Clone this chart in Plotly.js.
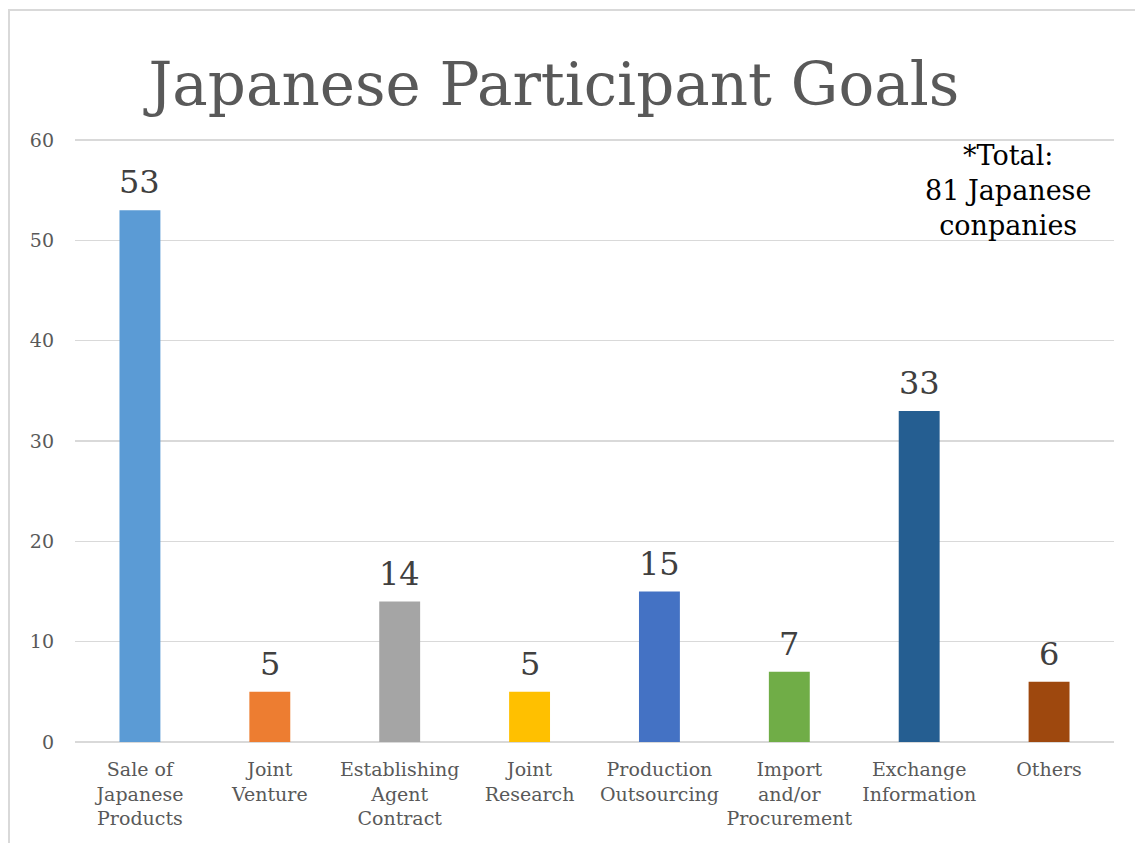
<!DOCTYPE html>
<html>
<head>
<meta charset="utf-8">
<script src="https://cdn.plot.ly/plotly-3.0.1.min.js"></script>
<style>
html,body{margin:0;padding:0;background:#fff;overflow:hidden;}
#frame{position:absolute;left:8px;top:9px;width:1200px;height:900px;border-left:2px solid #d9d9d9;border-top:2px solid #d9d9d9;box-sizing:border-box;pointer-events:none;z-index:5;}
#chart{position:absolute;left:0;top:0;width:1135px;height:843px;}
</style>
</head>
<body>
<div id="chart"></div>
<div id="frame"></div>
<script>
const categories = ["Sale of<br>Japanese<br>Products","Joint<br>Venture","Establishing<br>Agent<br>Contract","Joint<br>Research","Production<br>Outsourcing","Import<br>and/or<br>Procurement","Exchange<br>Information","Others"];
const values = [53, 5, 14, 5, 15, 7, 33, 6];
const colors = ["#5B9BD5","#ED7D31","#A5A5A5","#FFC000","#4472C4","#70AD47","#255E91","#9E480E"];
const yTicks = [0, 10, 20, 30, 40, 50, 60];
const noteText = "*Total:<br>81 Japanese<br>conpanies";
const titleText = "Japanese Participant Goals";

const FONT = "DejaVu Serif, Liberation Serif, serif";

const trace = {
  type: "bar",
  x: categories,
  y: values,
  marker: {color: colors},
  hoverinfo: "none"
};

const labelAnns = categories.map((c, i) => ({
  x: c, y: values[i], xref: "x", yref: "y",
  text: String(values[i]), showarrow: false,
  yanchor: "bottom", yshift: 7,
  font: {family: FONT, size: 32, color: "#404040"}
}));

const layout = {
  width: 1135, height: 843,
  margin: {l: 75, r: 21, t: 138, b: 101},
  paper_bgcolor: "#ffffff",
  plot_bgcolor: "#ffffff",
  bargap: 0.685,
  showlegend: false,
  title: {
    text: titleText,
    font: {family: FONT, size: 59.5, color: "#595959"},
    x: 0.488, xref: "container", xanchor: "center",
    y: 1 - 84/843, yref: "container", yanchor: "middle"
  },
  xaxis: {
    type: "category",
    showgrid: false,
    showline: false,
    zeroline: false,
    tickfont: {family: FONT, size: 19, color: "#595959"},
    ticklabelstandoff: 14
  },
  yaxis: {
    range: [0, 60.2],
    tickvals: yTicks,
    ticktext: yTicks.map(String),
    showgrid: true,
    gridcolor: "#d9d9d9",
    gridwidth: 1.5,
    zeroline: true,
    zerolinecolor: "#d9d9d9",
    zerolinewidth: 2,
    showline: false,
    tickfont: {family: FONT, size: 19, color: "#595959"},
    ticklabelstandoff: 20
  },
  annotations: labelAnns.concat([{
    xref: "paper", yref: "paper",
    x: (1008 - 75) / (1135 - 75 - 21), y: 1,
    xanchor: "center", yanchor: "top", yshift: 0,
    text: noteText, showarrow: false, align: "center",
    font: {family: FONT, size: 27, color: "#000000"}
  }])
};

Plotly.newPlot("chart", [trace], layout, {displayModeBar: false, staticPlot: true});
</script>
</body>
</html>
